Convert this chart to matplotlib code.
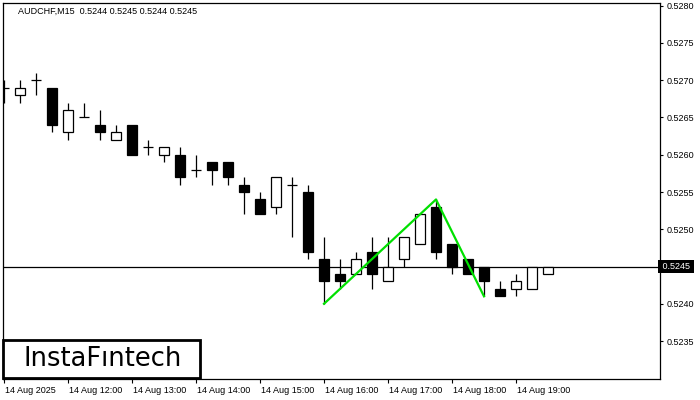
import matplotlib
matplotlib.use("Agg")
import matplotlib.pyplot as plt
from matplotlib.patches import Rectangle
import matplotlib.transforms as mtransforms

# ---- data (AUDCHF M15, 14 Aug 2025 from 11:00) ----
opens  = [0.5269, 0.5268, 0.5270, 0.5269, 0.5263, 0.5265, 0.5264, 0.5262, 0.5264, 0.5261,
          0.5260, 0.5260, 0.5258, 0.5259, 0.5259, 0.5256, 0.5254, 0.5253, 0.5256, 0.5255,
          0.5246, 0.5244, 0.5244, 0.5247, 0.5243, 0.5246, 0.5248, 0.5253, 0.5248, 0.5246,
          0.5245, 0.5242, 0.5242, 0.5242, 0.5244]
highs  = [0.5270, 0.5270, 0.5271, 0.5269, 0.5267, 0.5267, 0.5266, 0.5264, 0.5264, 0.5262,
          0.5261, 0.5261, 0.5260, 0.5259, 0.5259, 0.5257, 0.5255, 0.5257, 0.5257, 0.5256,
          0.5249, 0.5246, 0.5247, 0.5249, 0.5249, 0.5249, 0.5252, 0.5254, 0.5248, 0.5246,
          0.5245, 0.5243, 0.5244, 0.5245, 0.5245]
lows   = [0.5267, 0.5267, 0.5268, 0.5263, 0.5262, 0.5265, 0.5262, 0.5262, 0.5260, 0.5260,
          0.5259, 0.5256, 0.5257, 0.5256, 0.5256, 0.5252, 0.5252, 0.5252, 0.5249, 0.5246,
          0.5240, 0.5242, 0.5244, 0.5242, 0.5243, 0.5245, 0.5248, 0.5246, 0.5244, 0.5244,
          0.5241, 0.5241, 0.5241, 0.5242, 0.5244]
closes = [0.5269, 0.5269, 0.5270, 0.5264, 0.5266, 0.5265, 0.5263, 0.5263, 0.5260, 0.5261,
          0.5261, 0.5257, 0.5258, 0.5258, 0.5257, 0.5255, 0.5252, 0.5257, 0.5256, 0.5247,
          0.5243, 0.5243, 0.5246, 0.5244, 0.5245, 0.5249, 0.5252, 0.5247, 0.5245, 0.5244,
          0.5243, 0.5241, 0.5243, 0.5245, 0.5245]

x_tick_idx    = [0, 4, 8, 12, 16, 20, 24, 28, 32]
x_tick_labels = ["14 Aug 2025", "14 Aug 12:00", "14 Aug 13:00", "14 Aug 14:00", "14 Aug 15:00",
                 "14 Aug 16:00", "14 Aug 17:00", "14 Aug 18:00", "14 Aug 19:00"]
y_ticks = [0.5235, 0.5240, 0.5250, 0.5255, 0.5260, 0.5265, 0.5270, 0.5275, 0.5280]
current_price = 0.5245
pattern_idx = [20, 27, 30]
pattern_price = [0.5240, 0.5254, 0.5241]
title = "AUDCHF,M15  0.5244 0.5245 0.5244 0.5245"

FONT = "Liberation Sans"
FS = 6.5

fig = plt.figure(figsize=(7, 4), dpi=100)
ax = fig.add_axes([2.5/700, 21/400, 657.5/700, 376/400])

bw = 0.64
n = len(opens)
for i in range(n):
    o, h, l, c = opens[i], highs[i], lows[i], closes[i]
    ax.vlines(i, l, h, color="black", lw=0.9, zorder=2)
    if abs(c - o) < 1e-9:
        ax.hlines(o, i - bw/2, i + bw/2, color="black", lw=0.9, zorder=3)
    else:
        face = "white" if c > o else "black"
        ax.add_patch(Rectangle((i - bw/2, min(o, c)), bw, abs(c - o),
                               facecolor=face, edgecolor="black", lw=0.9, zorder=3))

ax.axhline(current_price, color="black", lw=0.9, zorder=1)
ax.plot(pattern_idx, pattern_price, color="#00E000", lw=1.6, zorder=5)

ax.set_xlim(-0.094, 41.0)
ax.set_ylim(0.522991, 0.528036)

for s in ax.spines.values():
    s.set_linewidth(0.9)
    s.set_color("black")

ax.yaxis.tick_right()
ax.set_yticks(y_ticks)
ax.set_yticklabels([f"{v:.4f}" for v in y_ticks], fontsize=FS, family=FONT)
ax.tick_params(axis="y", length=2.5, width=0.8, pad=2)

ax.set_xticks(x_tick_idx)
ax.set_xticklabels(x_tick_labels, fontsize=FS, family=FONT, ha="left")
ax.tick_params(axis="x", length=3, width=0.8, pad=2)
for lbl in ax.get_xticklabels():
    lbl.set_x(0)
offset = mtransforms.ScaledTranslation(0.5/72, 0, fig.dpi_scale_trans)
for lbl in ax.get_xticklabels():
    lbl.set_transform(lbl.get_transform() + offset)

# current price label
trans = mtransforms.blended_transform_factory(ax.transAxes, ax.transData)
ax.text(1.0, current_price, " 0.5245 ", transform=trans, fontsize=FS, family=FONT,
        color="white", va="center", ha="left",
        bbox=dict(facecolor="black", edgecolor="none", pad=1.2), clip_on=False, zorder=10)

# title
ax.text((18-2.5)/657.5, (379-11)/376, title, transform=ax.transAxes, fontsize=FS,
        family=FONT, va="center", ha="left")

# logo
ax.add_patch(Rectangle((0.0008, 0.003), 0.2995, 0.1005, transform=ax.transAxes,
                       facecolor="white", edgecolor="black", lw=2, zorder=20, clip_on=False))
ax.text(0.152, 0.053, "InstaFıntech", transform=ax.transAxes, fontsize=18.5,
        family="DejaVu Sans", va="center", ha="center", zorder=21)

fig.savefig("out.png", dpi=100)
